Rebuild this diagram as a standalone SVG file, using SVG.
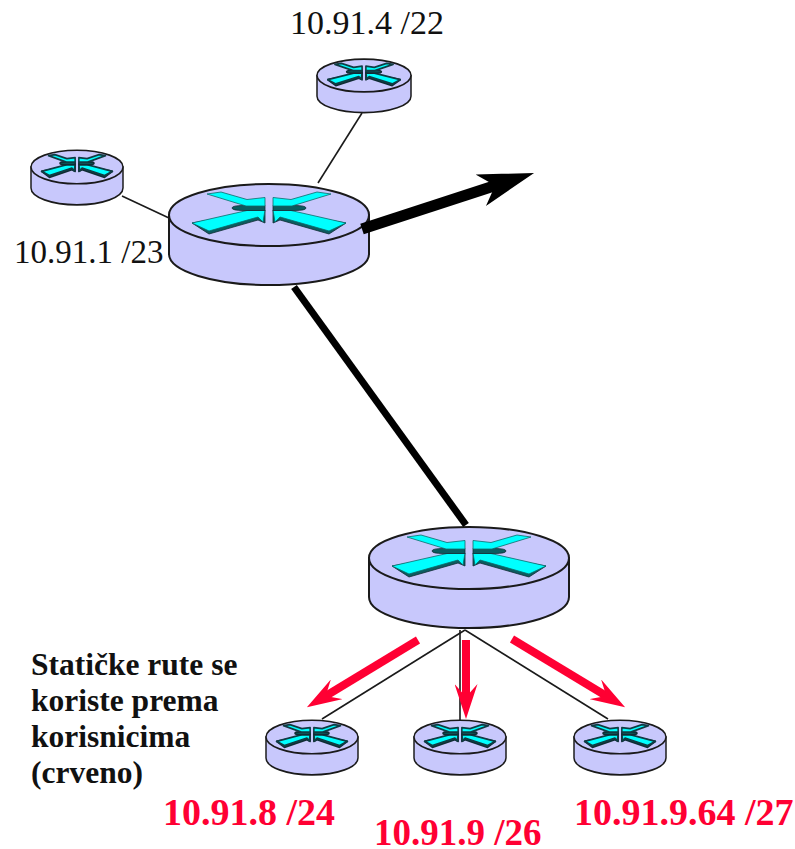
<svg xmlns="http://www.w3.org/2000/svg" xmlns:xlink="http://www.w3.org/1999/xlink" width="795" height="849" viewBox="0 0 795 849">
<style>
.big{--o:2;--a:.8;--ac:#0c6a6a}
.small{--o:3.2;--a:3.4;--ac:#103c44}
.body,.top{fill:#c8c8fc;stroke:#1a1a1a;stroke-width:var(--o)}
.arm{fill:#00ffff;stroke:var(--ac);stroke-width:var(--a);stroke-linejoin:round}
.sh{fill:#0c5c60;stroke:#102c34;stroke-width:var(--a);stroke-linejoin:round}
.thin{stroke:#1a1a1a;stroke-width:1.6;fill:none}
.thick{stroke:#000;fill:none}
.red{stroke:#ff0033;stroke-width:8;fill:none}
.lbl{font-family:"Liberation Serif","Times New Roman",serif;font-size:34px;fill:#111}
.rlbl{font-family:"Liberation Serif","Times New Roman",serif;font-size:38px;font-weight:bold;fill:#ff0033}
.note{font-family:"Liberation Serif","Times New Roman",serif;font-size:31.5px;font-weight:bold;fill:#111}
</style>
<defs>
<marker id="redHead" markerUnits="userSpaceOnUse" markerWidth="35" markerHeight="23" refX="15" refY="11.500" orient="auto" viewBox="0 0 35 23">
<path d="M35 11.500 L0 0 L13 11.500 L0 23 Z" fill="#ff0033"/>
</marker>
<marker id="blackHead" markerUnits="userSpaceOnUse" markerWidth="56" markerHeight="33" refX="17" refY="16.500" orient="auto" viewBox="0 0 56 33">
<path d="M56 16.500 L0 0 L15 16.500 L0 33 Z" fill="#000"/>
</marker>
<g id="router">
<path class="body" d="M-100 0 V39 A100 31 0 0 0 100 39 V0 Z"/>
<ellipse class="top" cx="0" cy="0" rx="100" ry="31"/>
<path class="sh" d="M-77 8 L-60 19 L-11 5 L-4 8 V-5 Z M77 8 L60 19 L11 5 L4 8 V-5 Z"/>
<path class="arm" d="M-77 8 L-60 16 L-11 2 L-6 7 L-4 -5 L-22 -4.500 Z"/>
<path class="arm" d="M77 8 L60 16 L11 2 L6 7 L4 -5 L22 -4.500 Z"/>
<path class="sh" d="M-37 -7 Q-37 -9.500 -25 -9.500 H-4 V-4.500 H-25 Q-37 -4.500 -37 -7 Z M37 -7 Q37 -9.500 25 -9.500 H4 V-4.500 H25 Q37 -4.500 37 -7 Z"/>
<path class="arm" d="M-62 -21 L-48 -23 L-22 -15.500 L-4 -17.500 V-9 H-23 Z"/>
<path class="arm" d="M62 -21 L48 -23 L22 -15.500 L4 -17.500 V-9 H23 Z"/>
</g>
</defs>
<g id="router-core" class="big"><use xlink:href="#router" href="#router" transform="translate(269 215)"/></g>
<g id="router-access" class="big"><use xlink:href="#router" href="#router" transform="translate(469 558)"/></g>
<g id="router-top" class="small"><use xlink:href="#router" href="#router" transform="translate(364 75.500) scale(.47 .53)"/></g>
<g id="router-left" class="small"><use xlink:href="#router" href="#router" transform="translate(77 167) scale(.46 .54)"/></g>
<g id="router-a" class="small"><use xlink:href="#router" href="#router" transform="translate(312 737) scale(.46 .54)"/></g>
<g id="router-b" class="small"><use xlink:href="#router" href="#router" transform="translate(460 737) scale(.46 .54)"/></g>
<g id="router-c" class="small"><use xlink:href="#router" href="#router" transform="translate(620 737) scale(.46 .54)"/></g>
<g id="connectors">
<line class="thin" x1="362" y1="113" x2="318" y2="183"/>
<line class="thin" x1="122" y1="196" x2="169" y2="218"/>
<line class="thick" stroke-width="7" x1="294" y1="287" x2="466" y2="525"/>
<line class="thick" stroke-width="11" x1="362" y1="229" x2="497" y2="185" marker-end="url(#blackHead)"/>
<line class="thin" x1="465" y1="630" x2="322" y2="719"/>
<line class="thin" x1="460" y1="630" x2="460" y2="720"/>
<line class="thin" x1="465" y1="630" x2="608" y2="719"/>
<line class="red" x1="418" y1="640" x2="324" y2="697" marker-end="url(#redHead)"/>
<line class="red" x1="466" y1="640" x2="466" y2="699" marker-end="url(#redHead)"/>
<line class="red" x1="512" y1="639" x2="608" y2="697" marker-end="url(#redHead)"/>
</g>
<g id="labels">
<text class="lbl" x="290" y="34">10.91.4 /22</text>
<text class="lbl" x="14" y="263" style="font-size:33px">10.91.1 /23</text>
<text class="rlbl" x="163" y="825">10.91.8 /24</text>
<text class="rlbl" x="374" y="845" style="font-size:37px">10.91.9 /26</text>
<text class="rlbl" x="574" y="825">10.91.9.64 /27</text>
<text class="note" x="31" y="675">Statičke rute se</text>
<text class="note" x="31" y="711">koriste prema</text>
<text class="note" x="31" y="747">korisnicima</text>
<text class="note" x="31" y="783">(crveno)</text>
</g>
</svg>
